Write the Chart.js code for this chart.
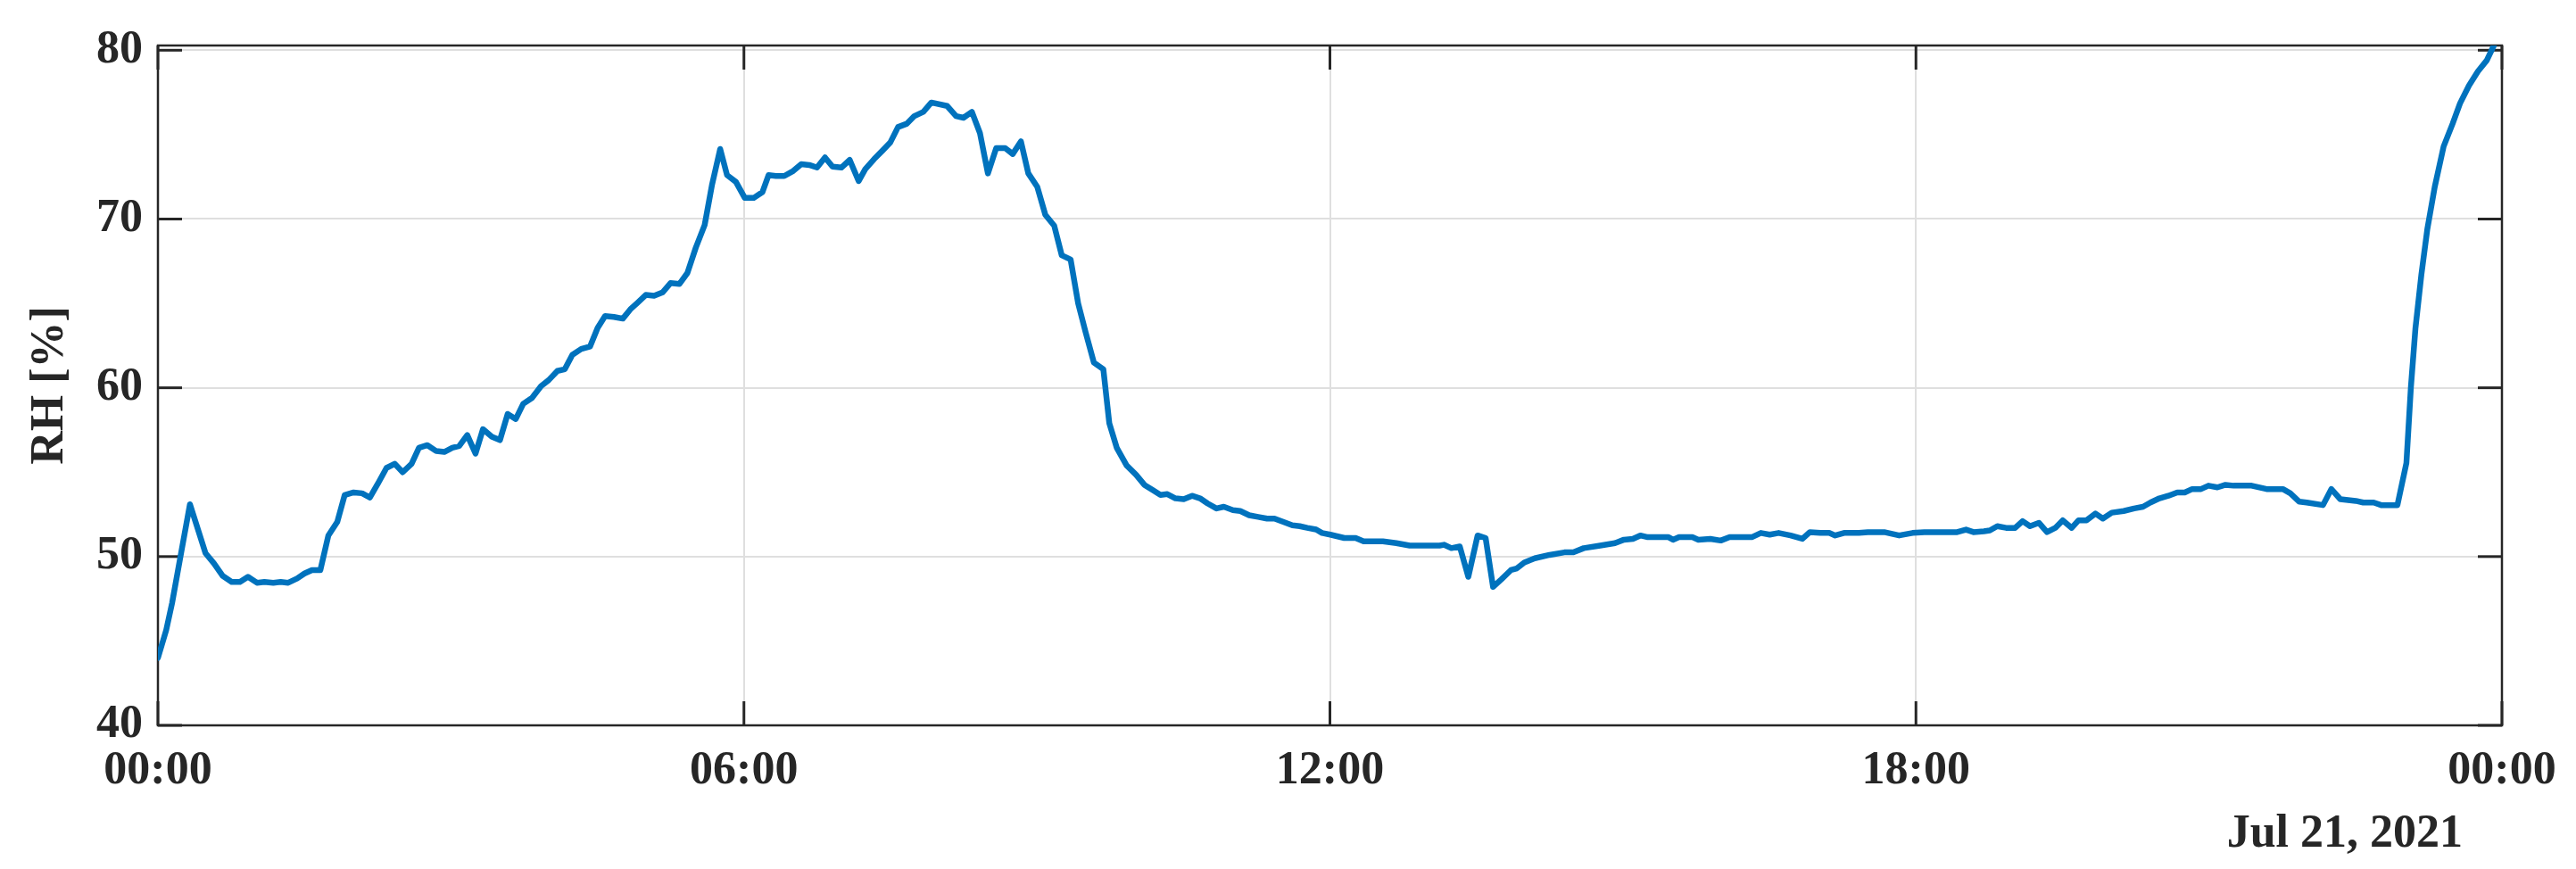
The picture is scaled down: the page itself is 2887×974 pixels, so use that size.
<!DOCTYPE html>
<html lang="en">
<head>
    <meta charset="UTF-8">
    <title>RH</title>
    <script src="https://cdn.jsdelivr.net/npm/chart.js"></script>
    <style>
        body { margin: 0; background: white; }
        .grafica { width: 2887px; height: 974px; }
    </style>
</head>
<body>
    <div class="grafica">
        <canvas id="myChart"></canvas>
    </div>
    <script>
        // hours since midnight, relative humidity
        const hours = [
            0.000, 0.085, 0.145, 0.237, 0.328, 0.487, 0.573, 0.664, 0.755, 0.840,
            0.922, 1.014, 1.090, 1.181, 1.257, 1.334, 1.425, 1.501, 1.577, 1.663,
            1.745, 1.836, 1.912, 2.003, 2.090, 2.170, 2.250, 2.340, 2.424, 2.506,
            2.597, 2.673, 2.759, 2.850, 2.932, 3.014, 3.085, 3.167, 3.252, 3.328,
            3.419, 3.502, 3.581, 3.664, 3.740, 3.830, 3.923, 4.000, 4.090, 4.166,
            4.243, 4.334, 4.425, 4.502, 4.578, 4.669, 4.760, 4.837, 4.913, 4.995,
            5.080, 5.166, 5.248, 5.339, 5.421, 5.507, 5.598, 5.674, 5.757, 5.827,
            5.918, 6.009, 6.100, 6.190, 6.252, 6.328, 6.413, 6.505, 6.587, 6.669,
            6.748, 6.830, 6.907, 6.998, 7.083, 7.175, 7.242, 7.333, 7.418, 7.500,
            7.578, 7.669, 7.745, 7.837, 7.919, 8.080, 8.172, 8.248, 8.334, 8.416,
            8.498, 8.583, 8.675, 8.752, 8.836, 8.912, 9.004, 9.086, 9.177, 9.254,
            9.345, 9.422, 9.498, 9.583, 9.680, 9.741, 9.817, 9.918, 10.015, 10.100,
            10.182, 10.265, 10.335, 10.418, 10.503, 10.588, 10.670, 10.747, 10.838, 10.914,
            11.006, 11.082, 11.173, 11.265, 11.356, 11.432, 11.524, 11.615, 11.691, 11.768,
            11.859, 11.919, 12.004, 12.147, 12.263, 12.345, 12.543, 12.680, 12.817, 13.122,
            13.167, 13.243, 13.329, 13.417, 13.512, 13.594, 13.670, 13.755, 13.853, 13.914,
            13.990, 14.097, 14.249, 14.401, 14.493, 14.599, 14.767, 14.919, 15.010, 15.102,
            15.178, 15.254, 15.467, 15.513, 15.574, 15.711, 15.772, 15.894, 16.001, 16.092,
            16.320, 16.412, 16.503, 16.594, 16.716, 16.838, 16.914, 17.021, 17.112, 17.173,
            17.264, 17.416, 17.508, 17.675, 17.828, 17.965, 18.087, 18.422, 18.513, 18.589,
            18.696, 18.757, 18.833, 18.924, 19.016, 19.092, 19.168, 19.259, 19.342, 19.427,
            19.503, 19.595, 19.665, 19.747, 19.838, 19.914, 20.005, 20.127, 20.234, 20.325,
            20.401, 20.493, 20.584, 20.675, 20.752, 20.828, 20.919, 20.995, 21.087, 21.169,
            21.254, 21.437, 21.590, 21.757, 21.833, 21.925, 22.001, 22.168, 22.253, 22.345,
            22.504, 22.580, 22.687, 22.763, 22.930, 23.022, 23.068, 23.114, 23.175, 23.236,
            23.312, 23.403, 23.495, 23.571, 23.662, 23.754, 23.845, 23.917
        ];
        const rh = [
            44.0, 45.65, 47.25, 50.2, 53.1, 50.2, 49.6, 48.85, 48.5, 48.5,
            48.8, 48.45, 48.5, 48.45, 48.5, 48.45, 48.7, 49.0, 49.2, 49.2,
            51.25, 52.05, 53.65, 53.8, 53.75, 53.5, 54.3, 55.25, 55.5, 55.0,
            55.5, 56.45, 56.6, 56.25, 56.2, 56.45, 56.55, 57.2, 56.1, 57.55,
            57.1, 56.9, 58.45, 58.15, 59.05, 59.4, 60.1, 60.45, 61.0, 61.1,
            61.95, 62.3, 62.45, 63.55, 64.25, 64.2, 64.1, 64.65, 65.05, 65.5,
            65.45, 65.65, 66.2, 66.15, 66.8, 68.3, 69.65, 72.05, 74.15, 72.6,
            72.2, 71.25, 71.25, 71.6, 72.6, 72.55, 72.55, 72.85, 73.25, 73.2,
            73.05, 73.65, 73.1, 73.05, 73.5, 72.25, 72.95, 73.55, 74.05, 74.55,
            75.45, 75.65, 76.1, 76.35, 76.9, 76.7, 76.1, 76.0, 76.35, 75.1,
            72.7, 74.2, 74.2, 73.85, 74.6, 72.7, 71.9, 70.25, 69.6, 67.85,
            67.6, 65.0, 63.3, 61.5, 61.1, 57.9, 56.45, 55.4, 54.85, 54.25,
            53.95, 53.65, 53.7, 53.45, 53.4, 53.6, 53.45, 53.15, 52.85, 52.95,
            52.75, 52.7, 52.45, 52.35, 52.25, 52.25, 52.05, 51.85, 51.8, 51.7,
            51.6, 51.4, 51.3, 51.1, 51.1, 50.9, 50.9, 50.8, 50.65, 50.65,
            50.7, 50.5, 50.6, 48.8, 51.25, 51.1, 48.2, 48.65, 49.2, 49.3,
            49.65, 49.9, 50.1, 50.25, 50.25, 50.5, 50.65, 50.8, 51.0, 51.05,
            51.25, 51.15, 51.15, 51.0, 51.15, 51.15, 51.0, 51.05, 50.95, 51.15,
            51.15, 51.4, 51.3, 51.4, 51.25, 51.05, 51.45, 51.4, 51.4, 51.25,
            51.4, 51.4, 51.45, 51.45, 51.25, 51.4, 51.45, 51.45, 51.6, 51.45,
            51.5, 51.55, 51.8, 51.7, 51.7, 52.1, 51.8, 52.0, 51.45, 51.7,
            52.15, 51.7, 52.15, 52.15, 52.55, 52.25, 52.6, 52.7, 52.85, 52.95,
            53.2, 53.45, 53.6, 53.8, 53.8, 54.0, 54.0, 54.2, 54.1, 54.25,
            54.2, 54.2, 54.0, 54.0, 53.75, 53.25, 53.2, 53.05, 54.0, 53.4,
            53.3, 53.2, 53.2, 53.05, 53.05, 55.55, 60.05, 63.5, 66.7, 69.4,
            71.9, 74.3, 75.65, 76.85, 77.9, 78.75, 79.4, 80.28
        ];
        const xTicks = [0, 6, 12, 18, 24];
        const xTickLabels = ["00:00", "06:00", "12:00", "18:00", "00:00"];
        const yTicks = [40, 50, 60, 70, 80];
        const yTitle = "RH [%]";
        const dateLabel = "Jul 21, 2021";

        const ink = "#262626";
        const font = { family: "'Liberation Serif', serif", weight: "bold", size: 52 };

        // matlab style box with inward ticks on all four sides + date under the axis
        const boxPlugin = {
            id: "box",
            beforeDatasetsDraw(chart) {
                const { ctx, chartArea: a, scales } = chart;
                const seg = (x1, y1, x2, y2) => {
                    ctx.beginPath();
                    ctx.moveTo(x1, y1);
                    ctx.lineTo(x2, y2);
                    ctx.stroke();
                };
                ctx.save();
                ctx.strokeStyle = ink;
                ctx.lineWidth = 2.5;
                ctx.strokeRect(a.left, a.top, a.right - a.left, a.bottom - a.top);
                ctx.lineWidth = 3;
                xTicks.forEach(v => {
                    const px = scales.x.getPixelForValue(v);
                    seg(px, a.bottom, px, a.bottom - 27);
                    seg(px, a.top, px, a.top + 27);
                });
                yTicks.forEach(v => {
                    const py = scales.y.getPixelForValue(v);
                    seg(a.left, py, a.left + 27, py);
                    seg(a.right, py, a.right - 27, py);
                });
                ctx.restore();
            },
            afterDraw(chart) {
                const { ctx, chartArea: a } = chart;
                ctx.save();
                ctx.font = "bold 52px 'Liberation Serif', serif";
                ctx.fillStyle = ink;
                ctx.textAlign = "right";
                ctx.textBaseline = "alphabetic";
                ctx.fillText(dateLabel, a.right - 44, 949);
                ctx.restore();
            }
        };

        const data = {
            datasets: [{
                label: "RH",
                data: hours.map((h, i) => ({ x: h, y: rh[i] })),
                borderColor: "#0072BD",
                borderWidth: 6.5,
                borderJoinStyle: "round",
                borderCapStyle: "round",
                pointRadius: 0,
                tension: 0,
                fill: false
            }]
        };

        const config = {
            type: "line",
            data,
            options: {
                responsive: true,
                maintainAspectRatio: false,
                animation: false,
                layout: { padding: { left: 0, right: 83, top: 51, bottom: 0 } },
                plugins: { legend: { display: false }, tooltip: { enabled: false } },
                scales: {
                    x: {
                        type: "linear",
                        min: 0,
                        max: 24,
                        afterFit: s => { s.height = 161; },
                        afterBuildTicks: s => { s.ticks = xTicks.map(v => ({ value: v })); },
                        grid: { color: "#dfdfdf", lineWidth: 2, drawTicks: false },
                        border: { display: false },
                        ticks: {
                            font, color: ink, padding: 20, maxRotation: 0,
                            callback: (v) => xTickLabels[xTicks.indexOf(v)]
                        }
                    },
                    y: {
                        min: 40,
                        max: 80.28,
                        afterFit: s => { s.width = 177; },
                        afterBuildTicks: s => { s.ticks = yTicks.map(v => ({ value: v })); },
                        grid: { color: "#dfdfdf", lineWidth: 2, drawTicks: false },
                        border: { display: false },
                        ticks: { font, color: ink, padding: 17 },
                        title: {
                            display: true, text: yTitle, color: ink,
                            font: { ...font, lineHeight: 1.2 },
                            padding: { top: 25, bottom: 0 }
                        }
                    }
                }
            },
            plugins: [boxPlugin]
        };

        new Chart(document.getElementById("myChart"), config);
    </script>
</body>
</html>
